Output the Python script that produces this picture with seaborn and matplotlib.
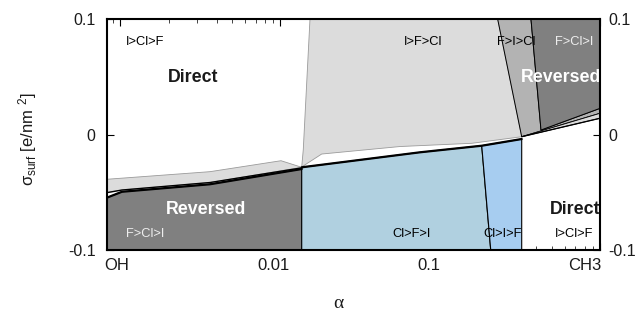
import numpy as np
import pandas as pd
import seaborn as sns
import matplotlib
matplotlib.use("Agg")
import matplotlib.pyplot as plt
from matplotlib import font_manager as fm
from matplotlib.transforms import ScaledTranslation

# ---------------- data (alpha, sigma_surf) ----------------
XMIN, XMAX = 0.00082, 1.0
YMIN, YMAX = -0.1, 0.1

# region polygons
light_grey_main_x = [0.01533, 0.2291, 0.3237, 0.1575, 0.05607, 0.01815, 0.01361, 0.01392]
light_grey_main_y = [0.1, 0.1, -0.0018, -0.0075, -0.0103, -0.0168, -0.0280, -0.0130]

light_grey_band_x = [XMIN, 0.003631, 0.01010, 0.01361, 0.003631, 0.001022, XMIN]
light_grey_band_y = [-0.0387, -0.0321, -0.0226, -0.0283, -0.0415, -0.0480, -0.0503]

mid_grey_x = [0.2291, 0.3701, 0.4274, 1.0, 1.0, 0.3237]
mid_grey_y = [0.1, 0.1, 0.0040, 0.0228, 0.0185, -0.0018]

light_grey_strip_x = [0.3237, 1.0, 1.0]
light_grey_strip_y = [-0.0018, 0.0185, 0.0142]

dark_grey_tr_x = [0.3701, 1.0, 1.0, 0.4274]
dark_grey_tr_y = [0.1, 0.1, 0.0228, 0.0040]

dark_grey_bl_x = [XMIN, 0.01361, 0.01361, 0.003631, 0.001022, XMIN]
dark_grey_bl_y = [-0.1, -0.1, -0.0298, -0.0430, -0.0495, -0.0547]

blue_light_x = [0.01361, 0.01361, 0.07479, 0.1820, 0.2072]
blue_light_y = [-0.1, -0.0283, -0.0153, -0.0096, -0.1]

blue_bright_x = [0.2072, 0.1820, 0.3237, 0.3237]
blue_bright_y = [-0.1, -0.0096, -0.0038, -0.1]

# boundary lines
bnd_band_bottom_x = [XMIN, 0.001022, 0.003631, 0.01361]
bnd_band_bottom_y = [-0.0503, -0.0480, -0.0415, -0.0288]
bnd_dark_top_x = [XMIN, 0.001022, 0.003631, 0.01361]
bnd_dark_top_y = [-0.0547, -0.0495, -0.0430, -0.0298]
bnd_blue_top_x = [0.01361, 0.07479, 0.1820, 0.3237]
bnd_blue_top_y = [-0.0283, -0.0153, -0.0096, -0.0038]
bnd_grey_bottom_x = [0.3237, 1.0]
bnd_grey_bottom_y = [-0.0018, 0.0142]

region_labels = ["I>Cl>F", "I>F>Cl", "F>I>Cl", "F>Cl>I", "F>Cl>I", "Cl>F>I", "Cl>I>F", "I>Cl>F"]
region_label_x = [0.001423, 0.0781, 0.2982, 0.6878, 0.001423, 0.06637, 0.2473, 0.6878]
region_label_y = [0.0803, 0.0803, 0.0803, 0.0803, -0.0857, -0.0857, -0.0857, -0.0857]
region_label_col = ["black", "black", "black", "#eeeeee", "#eeeeee", "black", "black", "black"]

big_labels = ["Direct", "Reversed", "Reversed", "Direct"]
big_label_x = [0.002862, 0.5705, 0.003453, 0.6947]
big_label_y = [0.0495, 0.0495, -0.0645, -0.0645]
big_label_col = ["#1a1a1a", "white", "white", "#1a1a1a"]

x_ticks = [0.001, 0.01, 0.1, 1.0]
x_tick_labels = ["OH", "0.01", "0.1", "CH3"]
y_ticks = [-0.1, 0.0, 0.1]
y_tick_labels = ["-0.1", "0", "0.1"]

# ---------------- style ----------------
sns.set_theme(style="white")
plt.rcParams["font.family"] = ["Liberation Sans", "DejaVu Sans"]
plt.rcParams["mathtext.fontset"] = "custom"
plt.rcParams["mathtext.rm"] = "Liberation Sans"
plt.rcParams["mathtext.it"] = "Liberation Sans"

names = {f.name for f in fm.fontManager.ttflist}
if "Liberation Sans Narrow" in names:
    NARROW = dict(family=["Liberation Sans Narrow", "DejaVu Sans"])
    small_fs, big_fs = 10.5, 14.5
else:
    NARROW = dict(family=["Liberation Sans", "DejaVu Sans"])
    small_fs, big_fs = 9.3, 12.8

fig = plt.figure(figsize=(6.36, 3.11), dpi=100)
ax = fig.add_axes([106.7 / 636, 1 - 250 / 311, (600 - 106.7) / 636, (250 - 19.3) / 311])
ax.set_xscale("log")
ax.set_xlim(XMIN, XMAX)
ax.set_ylim(YMIN, YMAX)

def poly(xs, ys, fc, ec="none", lw=0.0, z=1):
    ax.fill(xs, ys, facecolor=fc, edgecolor=ec, linewidth=lw, zorder=z)

poly(light_grey_main_x, light_grey_main_y, "#dcdcdc", "#9a9a9a", 0.6)
poly(light_grey_band_x, light_grey_band_y, "#dcdcdc", "#9a9a9a", 0.6)
poly(mid_grey_x, mid_grey_y, "#b3b3b3", "black", 0.7)
poly(light_grey_strip_x, light_grey_strip_y, "#dcdcdc", "black", 0.6)
poly(dark_grey_tr_x, dark_grey_tr_y, "#808080", "black", 0.7)
poly(dark_grey_bl_x, dark_grey_bl_y, "#808080", "black", 0.7)
poly(blue_light_x, blue_light_y, "#b0d0e0", "black", 0.8)
poly(blue_bright_x, blue_bright_y, "#a7cdf0", "black", 0.8)

def bline(xs, ys, lw):
    df = pd.DataFrame({"a": xs, "s": ys})
    sns.lineplot(data=df, x="a", y="s", sort=False, estimator=None,
                 color="black", linewidth=lw, ax=ax, zorder=3)

bline(bnd_band_bottom_x, bnd_band_bottom_y, 1.0)
bline(bnd_dark_top_x, bnd_dark_top_y, 1.6)
bline(bnd_blue_top_x, bnd_blue_top_y, 1.6)
bline(bnd_grey_bottom_x, bnd_grey_bottom_y, 0.9)

for t, x, y, c in zip(region_labels, region_label_x, region_label_y, region_label_col):
    ax.text(x, y, t, ha="center", va="center", color=c, fontsize=small_fs,
            zorder=5, **NARROW)
for t, x, y, c in zip(big_labels, big_label_x, big_label_y, big_label_col):
    ax.text(x, y, t, ha="center", va="center", color=c, fontsize=big_fs,
            fontweight="bold", zorder=5, **NARROW)

# axes / ticks
for s in ax.spines.values():
    s.set_color("black")
    s.set_linewidth(1.5)
    s.set_zorder(6)
ax.set_xticks(x_ticks)
ax.set_xticklabels(x_tick_labels)
ax.xaxis.set_minor_locator(matplotlib.ticker.LogLocator(base=10, subs=np.arange(2, 10), numticks=20))
ax.xaxis.set_minor_formatter(matplotlib.ticker.NullFormatter())
ax.set_yticks(y_ticks)
ax.set_yticklabels(y_tick_labels)
ax.tick_params(axis="x", which="major", direction="in", length=5, width=0.8,
               top=True, bottom=True, labelsize=12, pad=6, colors="black")
ax.tick_params(axis="x", which="minor", direction="in", length=3, width=0.6,
               top=True, bottom=True)
ax.tick_params(axis="y", which="major", direction="in", length=5, width=0.8,
               left=True, right=True, labelleft=True, labelright=True,
               labelsize=11.5, pad=8, colors="black")
ax.tick_params(axis="x", labelcolor="#1a1a1a")
ax.tick_params(axis="y", labelcolor="#1a1a1a")
for t in ax.yaxis.get_major_ticks():
    t.label2.set_transform(t.label2.get_transform() + ScaledTranslation(-3 / 100, 0, fig.dpi_scale_trans))

offs = [-4, -7, -11, -15]
for lab, o in zip(ax.get_xticklabels(), offs):
    lab.set_transform(lab.get_transform() + ScaledTranslation(o / 100, 0, fig.dpi_scale_trans))

ax.set_xlabel("α", fontsize=14, family=["Liberation Serif", "DejaVu Serif"], color="#1a1a1a")
ax.xaxis.set_label_coords((338 - 106.7) / 493.3, -53 / 230.7)
ax.xaxis.label.set_va("center")
ax.set_ylabel(r"$\sigma_{surf}$ [e/nm $^2$]", fontsize=12, color="#1a1a1a")
ax.yaxis.set_label_coords((28 - 106.7) / 493.3, (250 - 139) / 230.7)
ax.yaxis.label.set_va("center")

fig.savefig("out.png", dpi=100)
